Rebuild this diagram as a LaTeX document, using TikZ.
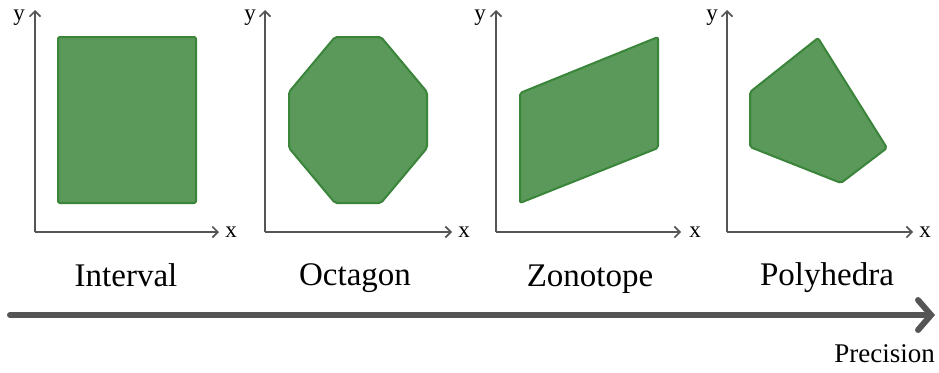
\documentclass[tikz,border=0pt]{standalone}
\usepackage{fontspec}
\setmainfont{Liberation Serif}
\usetikzlibrary{arrows.meta}
\definecolor{shapefill}{HTML}{5A995A}
\definecolor{shapeedge}{HTML}{3A853A}
\definecolor{axisgray}{HTML}{555555}
\tikzset{
  axis/.style={draw=axisgray, line width=1.6pt, -{Straight Barb[length=5.5pt,width=11pt,line width=1.6pt]}},
  region/.style={fill=shapefill, draw=shapeedge, line width=2pt, line join=round, rounded corners=2pt},
  axlabel/.style={font=\fontsize{23}{25}\selectfont, inner sep=0pt},
  title/.style={font=\fontsize{33}{38}\selectfont, inner sep=0pt, anchor=base},
}
\begin{document}
\begin{tikzpicture}[x=1pt,y=-1pt]
\useasboundingbox (0,0) rectangle (939,372);
% panel axes
\foreach \ox/\xe/\nm in {35/219/a, 265/452/b, 496/681/c, 727/913/d}{
  \coordinate (o\nm) at (\ox,232);
  \coordinate (yt\nm) at (\ox,10);
  \coordinate (xt\nm) at (\xe,232);
  \draw[axis] (o\nm) -- (yt\nm);
  \draw[axis] (o\nm) -- (xt\nm);
}
\node[axlabel] (ya) at (19,18) {y};
\node[axlabel] (xa) at (231,232) {x};
\node[axlabel] (yb) at (250,18) {y};
\node[axlabel] (xb) at (464,232) {x};
\node[axlabel] (yc) at (480,18) {y};
\node[axlabel] (xc) at (695,232) {x};
\node[axlabel] (yd) at (712,18) {y};
\node[axlabel] (xd) at (925,232) {x};
% shapes
\draw[region] (58,37) rectangle (196,203);
\draw[region] (335,37) -- (381,37) -- (427,92) -- (427,148) -- (381,203) -- (335,203) -- (289,148) -- (289,92) -- cycle;
\draw[region] (520,93) -- (658,37) -- (658,148) -- (520,203) -- cycle;
\draw[region] (750,92) -- (818,38) -- (887,148) -- (841,183) -- (750,147) -- cycle;
% titles
\node[title] (t1) at (126,286) {Interval};
\node[title] (t2) at (355,285) {Octagon};
\node[title] (t3) at (590,286) {Zonotope};
\node[title] (t4) at (827,285) {Polyhedra};
% precision arrow
\coordinate (ps) at (10,315);
\coordinate (pe) at (935,315);
\draw[draw=axisgray, line width=6pt, line cap=round, -{Straight Barb[length=13pt,width=30pt,line width=6pt,line cap=round]}] (ps) -- (pe);
\node[font=\fontsize{27}{32}\selectfont, inner sep=0pt, anchor=base east] (prec) at (935,362) {Precision};
\end{tikzpicture}
\end{document}
